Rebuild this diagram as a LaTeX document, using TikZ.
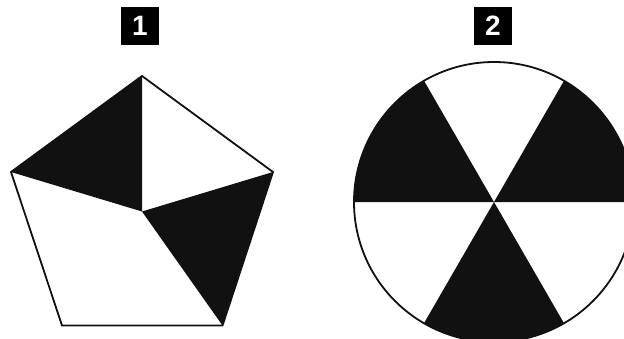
\documentclass[tikz,border=0pt]{standalone}
\usepackage{fontspec}
\setmainfont{Liberation Sans}
\definecolor{ink}{HTML}{111111}
\begin{document}
\begin{tikzpicture}[x=1pt,y=1pt,
  numbox/.style={fill=black,text=white,minimum size=38pt,inner sep=0pt,outer sep=0pt,font=\fontsize{28}{28}\selectfont\bfseries},
  outline/.style={draw=ink,line width=1.8pt,line join=miter},
  blk/.style={fill=ink}]
\useasboundingbox (0,0) rectangle (624,338);
\clip (0,0) rectangle (624,338);
% labels
\fill[black] (121,293) rectangle (159,331);
\fill[black] (474,293) rectangle (512,331);
\node[numbox] (n1) at (140,312) {1};
\node[numbox] (n2) at (493,312) {2};
% pentagon
\coordinate (pt) at (142,262);
\coordinate (pl) at (11,166);
\coordinate (pr) at (273,166);
\coordinate (pbr) at (222.5,12.5);
\coordinate (pbl) at (62,12.5);
\coordinate (pc) at (142,126.5);
\fill[blk] (pt) -- (pl) -- (pc) -- cycle;
\fill[blk] (pr) -- (pbr) -- (pc) -- cycle;
\draw[outline] (pt) -- (pr) -- (pbr) -- (pbl) -- (pl) -- cycle;
% circle
\coordinate (cc) at (494,136);
\fill[blk] (cc) -- ++(0:140) arc[start angle=0,end angle=60,radius=140] -- cycle;
\fill[blk] (cc) -- ++(120:140) arc[start angle=120,end angle=180,radius=140] -- cycle;
\fill[blk] (cc) -- ++(240:140) arc[start angle=240,end angle=300,radius=140] -- cycle;
\draw[outline] (cc) circle[radius=140];
\end{tikzpicture}
\end{document}
